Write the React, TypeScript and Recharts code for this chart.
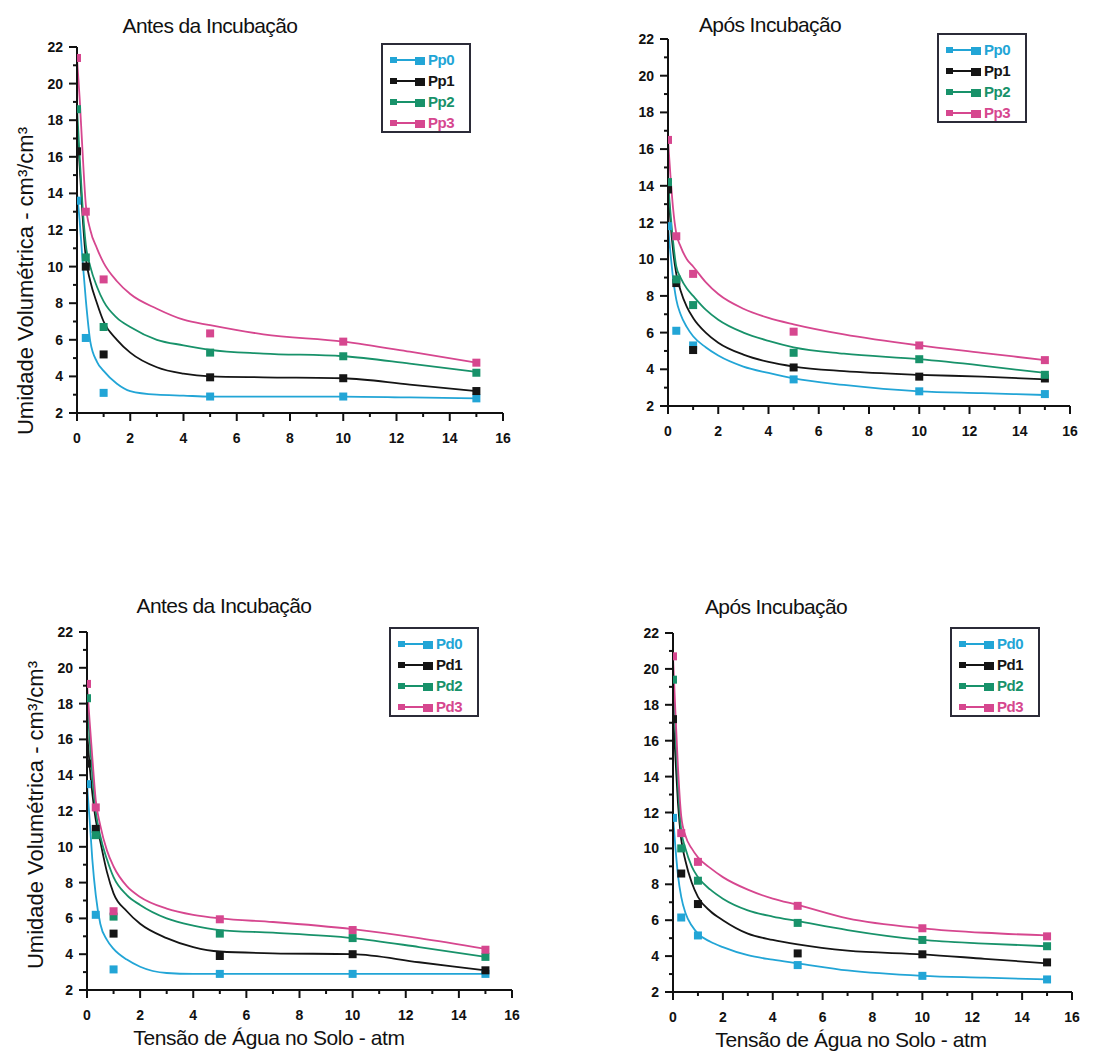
import React from "react";
import { ComposedChart, Line, Scatter, XAxis, YAxis } from "recharts";

// ---------- data ----------
const pointX = [0, 0.33, 1, 5, 10, 15];
const curveX = [0, 0.1, 0.2, 0.33, 0.5, 0.75, 1, 1.5, 2, 3, 4, 5, 7, 10, 12.5, 15];
const xTicks = [0, 1, 2, 3, 4, 5, 6, 7, 8, 9, 10, 11, 12, 13, 14, 15, 16];
const yTicks = [2, 3, 4, 5, 6, 7, 8, 9, 10, 11, 12, 13, 14, 15, 16, 17, 18, 19, 20, 21, 22];

// Panel 1: Antes da Incubação (Pp)
const p1Names = ["Pp0", "Pp1", "Pp2", "Pp3"];
const p1Pp0Pts = [13.6, 6.1, 3.1, 2.9, 2.9, 2.8];
const p1Pp1Pts = [16.3, 10.0, 5.2, 3.95, 3.9, 3.2];
const p1Pp2Pts = [18.6, 10.5, 6.7, 5.3, 5.1, 4.2];
const p1Pp3Pts = [21.4, 13.0, 9.3, 6.35, 5.9, 4.75];
const p1Pp0Fit = [14.0, 12.5, 10.5, 8.2, 5.9, 4.8, 4.3, 3.6, 3.2, 3.0, 2.95, 2.9, 2.9, 2.9, 2.85, 2.8];
const p1Pp1Fit = [17.8, 15.5, 13.0, 10.5, 9.2, 8.0, 7.0, 6.0, 5.3, 4.5, 4.15, 4.0, 3.95, 3.9, 3.55, 3.2];
const p1Pp2Fit = [18.7, 16.0, 13.5, 11.2, 10.0, 8.9, 8.1, 7.2, 6.7, 6.0, 5.7, 5.45, 5.25, 5.1, 4.7, 4.25];
const p1Pp3Fit = [21.4, 19.2, 16.5, 13.4, 12.0, 11.0, 10.2, 9.2, 8.5, 7.7, 7.1, 6.8, 6.3, 5.9, 5.35, 4.75];

// Panel 2: Após Incubação (Pp)
const p2Pp0Pts = [11.8, 6.1, 5.3, 3.45, 2.8, 2.65];
const p2Pp1Pts = [13.8, 8.7, 5.05, 4.1, 3.6, 3.5];
const p2Pp2Pts = [14.2, 8.9, 7.5, 4.9, 4.55, 3.7];
const p2Pp3Pts = [16.5, 11.25, 9.2, 6.05, 5.3, 4.5];
const p2Pp0Fit = [11.8, 10.3, 9.0, 7.8, 7.0, 6.3, 5.8, 5.2, 4.75, 4.15, 3.8, 3.5, 3.15, 2.8, 2.7, 2.6];
const p2Pp1Fit = [14.0, 12.0, 10.5, 9.2, 8.3, 7.4, 6.8, 6.0, 5.45, 4.8, 4.4, 4.15, 3.9, 3.7, 3.6, 3.45];
const p2Pp2Fit = [14.2, 12.5, 11.0, 9.6, 9.0, 8.4, 8.0, 7.25, 6.7, 6.0, 5.55, 5.2, 4.85, 4.55, 4.2, 3.8];
const p2Pp3Fit = [16.5, 14.5, 12.8, 11.4, 10.7, 10.0, 9.6, 8.75, 8.1, 7.3, 6.8, 6.45, 5.9, 5.3, 4.9, 4.5];

// Panel 3: Antes da Incubação (Pd)
const p3Names = ["Pd0", "Pd1", "Pd2", "Pd3"];
const p3Pd0Pts = [13.5, 6.2, 3.15, 2.9, 2.9, 2.9];
const p3Pd1Pts = [14.65, 11.0, 5.15, 3.9, 4.0, 3.1];
const p3Pd2Pts = [18.3, 10.65, 6.1, 5.15, 4.9, 3.85];
const p3Pd3Pts = [19.1, 12.2, 6.4, 5.95, 5.35, 4.25];
const p3Pd0Fit = [13.5, 11.5, 9.3, 7.3, 5.7, 4.8, 4.3, 3.7, 3.3, 2.95, 2.9, 2.9, 2.9, 2.9, 2.9, 2.9];
const p3Pd1Fit = [16.5, 14.5, 13.0, 11.5, 10.3, 8.6, 7.4, 6.4, 5.7, 4.9, 4.4, 4.15, 4.05, 4.0, 3.55, 3.1];
const p3Pd2Fit = [18.3, 16.0, 14.0, 12.0, 10.6, 9.3, 8.3, 7.3, 6.75, 6.0, 5.6, 5.35, 5.2, 4.9, 4.4, 3.85];
const p3Pd3Fit = [19.1, 17.0, 15.0, 12.6, 11.2, 9.8, 8.9, 7.8, 7.2, 6.55, 6.2, 6.0, 5.8, 5.4, 4.9, 4.3];

// Panel 4: Após Incubação (Pd)
const p4Pd0Pts = [11.7, 6.15, 5.15, 3.5, 2.9, 2.7];
const p4Pd1Pts = [17.2, 8.6, 6.9, 4.15, 4.1, 3.65];
const p4Pd2Pts = [19.4, 10.0, 8.2, 5.85, 4.9, 4.55];
const p4Pd3Pts = [20.7, 10.85, 9.25, 6.8, 5.55, 5.1];
const p4Pd0Fit = [11.8, 10.0, 8.5, 7.3, 6.4, 5.7, 5.25, 4.8, 4.5, 4.05, 3.8, 3.6, 3.2, 2.9, 2.8, 2.7];
const p4Pd1Fit = [17.5, 15.0, 12.5, 10.5, 9.3, 8.1, 7.3, 6.5, 6.0, 5.25, 4.9, 4.65, 4.3, 4.1, 3.85, 3.6];
const p4Pd2Fit = [19.4, 16.5, 13.5, 11.0, 10.0, 9.0, 8.4, 7.7, 7.2, 6.55, 6.2, 5.95, 5.45, 4.9, 4.7, 4.55];
const p4Pd3Fit = [20.7, 17.5, 14.5, 11.8, 10.7, 10.0, 9.5, 8.9, 8.4, 7.7, 7.2, 6.85, 6.1, 5.55, 5.3, 5.15];

// ---------- styles ----------
const COLORS = ["#22a5d6", "#151515", "#18926a", "#d6478f"];
const SANS = "'Liberation Sans', Arial, sans-serif";

const zip = (xs: number[], ys: number[]) => xs.map((x, i) => ({ x, y: ys[i] }));

const renderYTick = (props: any) => {
  const { x, y, payload } = props;
  const v = payload.value;
  const major = v % 2 === 0;
  return (
    <g key={"yt" + v}>
      <line x1={x - (major ? 8 : 4)} x2={x} y1={y} y2={y} stroke="#111" strokeWidth={2} />
      {major && (
        <text x={x - 14} y={y + 5} textAnchor="end" fontFamily={SANS} fontWeight={700} fontSize={14} fill="#111">
          {v}
        </text>
      )}
    </g>
  );
};

const renderXTick = (props: any) => {
  const { x, y, payload } = props;
  const v = payload.value;
  const major = v % 2 === 0;
  return (
    <g key={"xt" + v}>
      <line x1={x} x2={x} y1={y} y2={y + (major ? 8 : 4)} stroke="#111" strokeWidth={2} />
      {major && (
        <text x={x} y={y + 30} textAnchor="middle" fontFamily={SANS} fontWeight={700} fontSize={14} fill="#111">
          {v}
        </text>
      )}
    </g>
  );
};

const Square = (color: string) => (props: any) => {
  const { cx, cy } = props;
  if (cx == null || cy == null) return <g />;
  return <rect x={cx - 4} y={cy - 4} width={8} height={8} fill={color} />;
};

type PanelProps = {
  x0: number;
  x16: number;
  yTop: number;
  yBot: number;
  fits: number[][];
  pts: number[][];
};

const Panel = ({ x0, x16, yTop, yBot, fits, pts }: PanelProps) => {
  const W = 60 + (x16 - x0) + 12;
  const H = 10 + (yBot - yTop) + 40;
  return (
    <div style={{ position: "absolute", left: x0 - 60, top: yTop - 10 }}>
      <ComposedChart width={W} height={H} margin={{ top: 10, right: 12, bottom: 0, left: 0 }}>
        <XAxis
          type="number"
          dataKey="x"
          domain={[0, 16]}
          ticks={xTicks}
          interval={0}
          tickSize={0}
          tickMargin={0}
          tickLine={false}
          tick={renderXTick}
          height={40}
          axisLine={{ stroke: "#111", strokeWidth: 2 }}
          allowDataOverflow
        />
        <YAxis
          type="number"
          dataKey="y"
          domain={[2, 22]}
          ticks={yTicks}
          interval={0}
          tickSize={0}
          tickMargin={0}
          tickLine={false}
          tick={renderYTick}
          width={60}
          axisLine={{ stroke: "#111", strokeWidth: 2 }}
          allowDataOverflow
        />
        {fits.map((f, i) => (
          <Line
            key={"l" + i}
            data={zip(curveX, f)}
            dataKey="y"
            type="monotone"
            stroke={COLORS[i]}
            strokeWidth={1.8}
            dot={false}
            activeDot={false}
            isAnimationActive={false}
          />
        ))}
        {pts.map((p, i) => (
          <Scatter
            key={"s" + i}
            data={zip(pointX, p)}
            dataKey="y"
            fill={COLORS[i]}
            shape={Square(COLORS[i])}
            isAnimationActive={false}
          />
        ))}
      </ComposedChart>
    </div>
  );
};

const Legend = ({ left, top, names }: { left: number; top: number; names: string[] }) => (
  <div
    style={{
      position: "absolute",
      left,
      top,
      width: 90,
      height: 90,
      border: "2px solid #2b2b38",
      boxSizing: "border-box",
      paddingTop: 4,
    }}
  >
    {names.map((n, i) => (
      <div key={n} style={{ height: 21, display: "flex", alignItems: "center", paddingLeft: 5 }}>
        <svg width={40} height={12}>
          <rect x={2} y={3} width={7} height={6} fill={COLORS[i]} />
          <line x1={9} x2={28} y1={6} y2={6} stroke={COLORS[i]} strokeWidth={2} />
          <rect x={27} y={3} width={10} height={8} fill={COLORS[i]} />
        </svg>
        <span style={{ fontFamily: SANS, fontWeight: "bold", fontSize: 15, color: COLORS[i], letterSpacing: -0.5 }}>{n}</span>
      </div>
    ))}
  </div>
);

const Title = ({ cx, cy, text }: { cx: number; cy: number; text: string }) => (
  <div
    style={{
      position: "absolute",
      left: cx - 150,
      top: cy - 13,
      width: 300,
      textAlign: "center",
      fontFamily: SANS,
      fontSize: 21,
      lineHeight: "26px",
      color: "#111",
      letterSpacing: -0.6,
    }}
  >
    {text}
  </div>
);

const YLabel = ({ cx, cy }: { cx: number; cy: number }) => (
  <div
    style={{
      position: "absolute",
      left: cx - 200,
      top: cy - 13,
      width: 400,
      textAlign: "center",
      fontFamily: SANS,
      fontSize: 22,
      lineHeight: "26px",
      color: "#111",
      transform: "rotate(-90deg)",
      whiteSpace: "nowrap",
    }}
  >
    Umidade Volumétrica - cm³/cm³
  </div>
);

const XLabel = ({ cx, cy }: { cx: number; cy: number }) => (
  <div
    style={{
      position: "absolute",
      left: cx - 200,
      top: cy - 13,
      width: 400,
      textAlign: "center",
      fontFamily: SANS,
      fontSize: 21,
      lineHeight: "26px",
      color: "#111",
      whiteSpace: "nowrap",
      letterSpacing: -0.4,
    }}
  >
    Tensão de Água no Solo - atm
  </div>
);

export default function App() {
  return (
    <div style={{ position: "absolute", left: 0, top: 0, width: 1115, height: 1052, background: "#fff", overflow: "hidden" }}>
      <Panel
        x0={77}
        x16={503}
        yTop={47}
        yBot={413}
        fits={[p1Pp0Fit, p1Pp1Fit, p1Pp2Fit, p1Pp3Fit]}
        pts={[p1Pp0Pts, p1Pp1Pts, p1Pp2Pts, p1Pp3Pts]}
      />
      <Panel
        x0={668}
        x16={1070}
        yTop={39}
        yBot={406}
        fits={[p2Pp0Fit, p2Pp1Fit, p2Pp2Fit, p2Pp3Fit]}
        pts={[p2Pp0Pts, p2Pp1Pts, p2Pp2Pts, p2Pp3Pts]}
      />
      <Panel
        x0={87}
        x16={512}
        yTop={632}
        yBot={990}
        fits={[p3Pd0Fit, p3Pd1Fit, p3Pd2Fit, p3Pd3Fit]}
        pts={[p3Pd0Pts, p3Pd1Pts, p3Pd2Pts, p3Pd3Pts]}
      />
      <Panel
        x0={673}
        x16={1072}
        yTop={633}
        yBot={992}
        fits={[p4Pd0Fit, p4Pd1Fit, p4Pd2Fit, p4Pd3Fit]}
        pts={[p4Pd0Pts, p4Pd1Pts, p4Pd2Pts, p4Pd3Pts]}
      />
      <Title cx={210} cy={26} text="Antes da Incubação" />
      <Title cx={770} cy={25} text="Após Incubação" />
      <Title cx={224} cy={606} text="Antes da Incubação" />
      <Title cx={776} cy={607} text="Após Incubação" />
      <Legend left={381} top={43} names={p1Names} />
      <Legend left={937} top={33} names={p1Names} />
      <Legend left={389} top={627} names={p3Names} />
      <Legend left={950} top={627} names={p3Names} />
      <YLabel cx={26} cy={281} />
      <YLabel cx={36} cy={815} />
      <XLabel cx={269} cy={1038} />
      <XLabel cx={851} cy={1040} />
    </div>
  );
}
